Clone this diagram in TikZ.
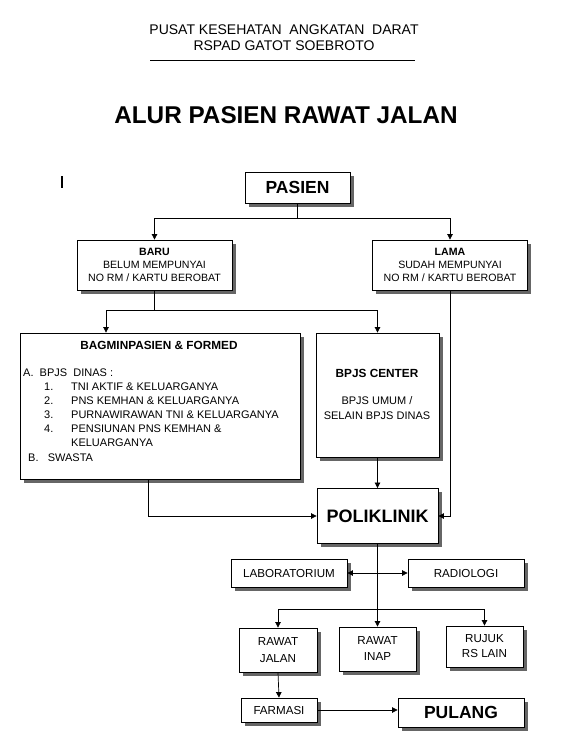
\documentclass[tikz,border=0pt]{standalone}
\usepackage{fontspec}
\setmainfont{Liberation Sans}
\usetikzlibrary{arrows.meta}
\begin{document}
\begin{tikzpicture}[x=1pt,y=-1pt,
  every node/.style={font=\fontsize{11}{14}\selectfont},
  box/.style={rectangle,draw,line width=0.8pt,fill=white,inner sep=0pt,align=center,
    preaction={fill=black!60,transform canvas={shift={(3.5pt,-3.5pt)}}}},
  big/.style={font=\fontsize{17.5}{20}\selectfont\bfseries},
  small/.style={font=\fontsize{10.6}{13}\selectfont},
  low/.style={font=\fontsize{11.6}{16}\selectfont},
  item/.style={anchor=west,inner sep=0pt},
  arr/.style={-{Triangle[length=5.5pt,width=5.5pt]},line width=0.7pt}]
\useasboundingbox (0,0) rectangle (565,750);
% header
\node[font=\fontsize{14}{16}\selectfont] (org) at (284,30) {PUSAT KESEHATAN \ ANGKATAN \ DARAT};
\node[font=\fontsize{14}{16}\selectfont] (rs) at (284,46) {RSPAD GATOT SOEBROTO};
\draw[line width=0.8pt] (150,60) -- (415,60);
\node[font=\fontsize{24.3}{28}\selectfont\bfseries] (title) at (286,115) {ALUR PASIEN RAWAT JALAN};
\draw[line width=1.6pt] (62,176) -- (62,188);
% boxes
\node[box,big,minimum width=105,minimum height=31] (pasien) at (297.5,187.5) {PASIEN};
\node[box,small,minimum width=155,minimum height=50] (baru) at (154.5,265) {\textbf{BARU}\\BELUM MEMPUNYAI\\NO RM / KARTU BEROBAT};
\node[box,small,minimum width=155,minimum height=50] (lama) at (450,265) {\textbf{LAMA}\\SUDAH MEMPUNYAI\\NO RM / KARTU BEROBAT};
\node[box,minimum width=280,minimum height=146] (bagmin) at (160,406) {};
\node[box,minimum width=123,minimum height=124] (bpjs) at (377.5,395) {};
\node[box,big,font=\fontsize{18}{20}\selectfont\bfseries,minimum width=121,minimum height=55] (poli) at (377.5,516) {POLIKLINIK};
\node[box,low,minimum width=116,minimum height=28] (lab) at (289,573) {LABORATORIUM};
\node[box,low,minimum width=116,minimum height=28] (rad) at (466,573) {RADIOLOGI};
\node[box,low,minimum width=78,minimum height=44,font=\fontsize{11.6}{17}\selectfont] (rjalan) at (278,650) {RAWAT\\JALAN};
\node[box,low,minimum width=77,minimum height=44] (rinap) at (377.5,649) {RAWAT\\INAP};
\node[box,low,minimum width=77,minimum height=41,font=\fontsize{11.6}{15}\selectfont] (rujuk) at (484.5,646.5) {RUJUK\\RS LAIN};
\node[box,low,minimum width=76,minimum height=24] (farmasi) at (279,710) {FARMASI};
\node[box,big,minimum width=126,minimum height=29] (pulang) at (461,712.5) {PULANG};
% texts in bagmin and bpjs
\node[font=\fontsize{11.8}{14}\selectfont\bfseries] (bagtitle) at (159,345) {BAGMINPASIEN \& FORMED};
\node[item] (ia) at (23,373) {A.\ \ BPJS \ DINAS :};
\foreach \n/\t/\yy in {1/TNI AKTIF \& KELUARGANYA/387,2/PNS KEMHAN \& KELUARGANYA/401,
  3/PURNAWIRAWAN TNI \& KELUARGANYA/415,4/PENSIUNAN PNS KEMHAN \&/429}{
  \node[item] (n\n) at (44,\yy) {\n.};
  \node[item] (t\n) at (71,\yy) {\t};
}
\node[item] (t5) at (71,443) {KELUARGANYA};
\node[item] (ib) at (28,458) {B.\ \ \ SWASTA};
\node[font=\fontsize{11.8}{14}\selectfont\bfseries] (bpjstitle) at (377,373) {BPJS CENTER};
\node[align=center,inner sep=0pt] (bpjstext) at (377,408.5) {BPJS UMUM /\\[1pt]SELAIN BPJS DINAS};
% connectors
\draw[arr] (pasien.south) -- ++(0,14.5) -| (baru.north);
\draw[arr] (pasien.south) -- ++(0,14.5) -| (lama.north);
\draw[arr] (baru.south) -- ++(0,20) -| ([xshift=-54pt]bagmin.north);
\draw[arr] (baru.south) -- ++(0,20) -| (bpjs.north);
\draw[arr] (bpjs.south) -- (poli.north);
\draw[arr] ([xshift=-12pt]bagmin.south) |- (poli.west);
\draw[arr] (lama.south) |- (poli.east);
\coordinate (split) at (377.5,609);
\draw[line width=0.7pt] (poli.south) -- (split);
\draw[{Triangle[length=5.5pt,width=5.5pt]}-{Triangle[length=5.5pt,width=5.5pt]},line width=0.7pt] (lab.east) -- (rad.west);
\draw[arr] (split) -- (rinap.north);
\draw[arr] (split) -| (rjalan.north);
\draw[arr] (split) -| (rujuk.north);
\draw[arr] (rjalan.south) -- (farmasi.north);
\draw[arr] (farmasi.east) -- (farmasi.east -| pulang.west);
\end{tikzpicture}
\end{document}
